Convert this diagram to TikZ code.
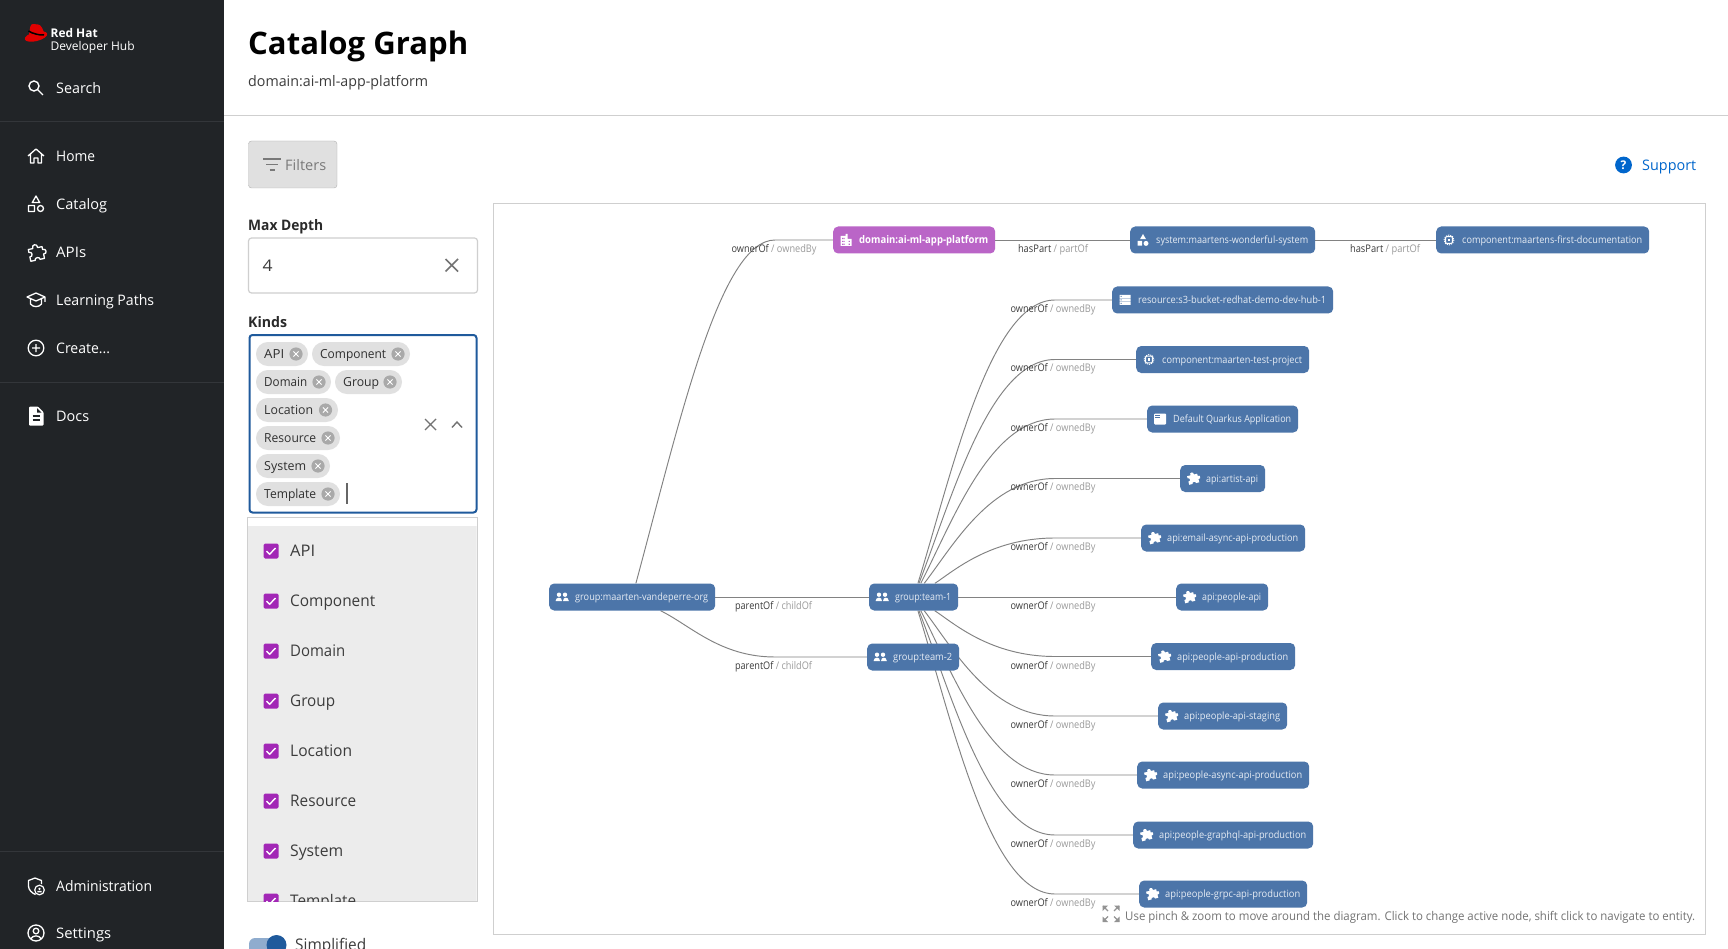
\documentclass[tikz,border=0pt]{standalone}
\usepackage{graphicx}
\usepackage{fontspec}
\setmainfont{Open Sans}
\newfontfamily\medf{Open Sans}
\usetikzlibrary{calc}
\definecolor{sidebg}{HTML}{212427}
\definecolor{sideln}{HTML}{33363A}
\definecolor{rule}{HTML}{CFCFCF}
\definecolor{entblue}{HTML}{4C75A9}
\definecolor{entpurple}{HTML}{BA65C7}
\definecolor{edgec}{HTML}{828282}
\definecolor{focus}{HTML}{1F5A9C}
\definecolor{chipc}{HTML}{E0E0E0}
\definecolor{chipx}{HTML}{A9A9A9}
\definecolor{checkc}{HTML}{A227B6}
\definecolor{dd}{HTML}{ECECEC}
\definecolor{ink}{HTML}{3C3C3C}
\definecolor{mut}{HTML}{9A9A9A}
\definecolor{link}{HTML}{0066CC}
\definecolor{enttxt}{HTML}{E6ECF4}
\pgfdeclarelayer{under}
\pgfsetlayers{under,main}
\newcommand\fs[1]{\fontsize{#1}{#1}\selectfont}
\newcommand\tx[6]{\node[anchor=base west,inner sep=0pt,#5] (#1) at (#2,#3) {\resizebox{#4pt}{\height}{#6}};}
\newcommand\ent[8]{\node[#1,minimum width=#4pt,anchor=west] (#2) at (#3,#5) {\makebox[#4pt][l]{\hspace{26pt}\raisebox{-3.5pt}[0pt][0pt]{\resizebox{\dimexpr#4pt-33pt\relax}{\height}{#8}}}};
\pic at ($(#2.west)+(13,0)$) {#6};}
\newcommand\elab[6]{\node[inner sep=0pt,anchor=center,font=\fs{10.5}] (#1) at (#2,#3+1) {\resizebox{#4pt}{\height}{\textcolor{ink}{#5} \textcolor{mut}{/ #6}\vphantom{Ag}}};}
\newcommand\chip[6]{\fill[chipc,rounded corners=11.9pt] (#2,#6-12) rectangle (#3,#6+12);
\tx{#1}{#2+8}{#6+4.7}{#4}{chiptxt}{#1}
\fill[chipx] (#5,#6) circle (6.6);
\draw[white,line width=1pt] (#5-2.6,#6-2.6) -- (#5+2.6,#6+2.6) (#5-2.6,#6+2.6) -- (#5+2.6,#6-2.6);}
\newcommand\opt[3]{\fill[checkc,rounded corners=1.5pt] (263.5,#2-7.5) rectangle (278.5,#2+7.5);
\draw[white,line width=1.4pt] (266.5,#2+.2) -- (269.7,#2+3.2) -- (275.5,#2-3);
\tx{o#1}{290}{#2+5.9}{#3}{opttxt}{#1}}
\tikzset{
 ent/.style={fill=entblue,text=enttxt,rounded corners=5pt,inner sep=0pt,minimum height=27pt,font=\fs{10}},
 entd/.style={ent,fill=entpurple,text=white,font=\fs{10.5}\bfseries},
 edgeline/.style={draw=edgec,line width=.95pt},
 sidetxt/.style={text=white,font=\fs{14.5}},
 chiptxt/.style={text=ink!80!black,font=\fs{12.5}\medf},
 opttxt/.style={text=ink,font=\fs{16}},
 ic search/.pic={\draw[white,line width=1.4pt] (-2,-2) circle (5) (1.6,1.6) -- (7,7);},
 ic home/.pic={\draw[white,line width=1.3pt,line join=round] (-8,0) -- (0,-7) -- (8,0) (-5.5,-1.5) -- (-5.5,7) -- (-2,7) -- (-2,2) -- (2,2) -- (2,7) -- (5.5,7) -- (5.5,-1.5);},
 ic catalog/.pic={\draw[white,line width=1.3pt,line join=round] (0,-8) -- (-3.7,-1.5) -- (3.7,-1.5) -- cycle (-7.5,1.5) rectangle (-1.5,7.5) (4.5,4.5) circle (3);},
 ic apis/.pic={\draw[white,line width=1.3pt,line join=round,rotate=12] (-7,-4) -- (-2.5,-4) .. controls (-3.5,-8.5) and (3.5,-8.5) .. (2.5,-4) -- (7,-4) -- (7,-1) .. controls (11,-2) and (11,4.5) .. (7,3.5) -- (7,8) -- (2.5,8) .. controls (3,5) and (-3,5) .. (-2.5,8) -- (-7,8) -- (-7,3.5) .. controls (-3.5,4.5) and (-3.5,-2) .. (-7,-1) -- cycle;},
 ic learn/.pic={\draw[white,line width=1.3pt,line join=round] (-9,-3) -- (0,-7) -- (9,-3) -- (0,1) -- cycle (-5.5,-.5) -- (-5.5,4) .. controls (-3,7.5) and (3,7.5) .. (5.5,4) -- (5.5,-.5) (9,-3) -- (9,2);},
 ic create/.pic={\draw[white,line width=1.3pt] (0,0) circle (7.8) (-4,0) -- (4,0) (0,-4) -- (0,4);},
 ic docs/.pic={\fill[white,rounded corners=1pt] (-7,-9.5) -- (2,-9.5) -- (7.5,-4) -- (7.5,9.5) -- (-7,9.5) -- cycle;
   \fill[sidebg] (1,-8) -- (1,-3.5) -- (5.5,-3.5) -- cycle;
   \draw[sidebg,line width=1.4pt] (-3.5,0) -- (4,0) (-3.5,4) -- (4,4);},
 ic admin/.pic={\draw[white,line width=1.3pt,line join=round] (-1,-8) -- (-7.5,-5.5) -- (-7.5,0) .. controls (-7.5,4) and (-4,7) .. (-.5,8.5) (-1,-8) -- (5.5,-5.5) -- (5.5,-2);
   \draw[white,line width=1.2pt] (3.5,4) circle (4.8);\fill[white] (3.5,2.8) circle (1.3) (1.3,6.3) rectangle (5.7,4.8);},
 ic settings/.pic={\draw[white,line width=1.3pt] (0,0) circle (8) (0,-2) circle (2.8) (-5,5.5) .. controls (-3,2) and (3,2) .. (5,5.5);},
 ic people/.pic={\fill[white] (-3,-2.3) circle (2.2) (3,-2.3) circle (2.2) (-6.5,4) .. controls (-6,-.5) and (0,-.5) .. (0,4) -- cycle (1,4) .. controls (1,-.5) and (6.5,-.5) .. (6.8,4) -- cycle;},
 ic domain/.pic={\fill[white] (-5.5,-4) rectangle (-.5,6) (-.5,-6) rectangle (1.5,6) (1.5,-1) rectangle (5.5,6);
   \fill[entpurple] (-4,-2) rectangle (-3,-.8) (-2.3,-2) rectangle (-1.3,-.8) (-4,.8) rectangle (-3,2) (-2.3,.8) rectangle (-1.3,2) (-4,3.6) rectangle (-3,4.8) (-2.3,3.6) rectangle (-1.3,4.8) (2.6,.8) rectangle (3.8,2) (2.6,3.6) rectangle (3.8,4.8);},
 ic system/.pic={\fill[white] (0,-6) -- (-3,-.8) -- (3,-.8) -- cycle (-5.5,1) rectangle (-.8,5.7) (3,3.4) circle (2.5);},
 ic resource/.pic={\fill[white] (-5.5,-5) rectangle (5.5,-2) (-5.5,-1.5) rectangle (5.5,1.5) (-5.5,2) rectangle (5.5,5);
   \fill[entblue] (-4.5,-4) rectangle (-3.5,-3) (-4.5,-.5) rectangle (-3.5,.5) (-4.5,3) rectangle (-3.5,4);},
 ic component/.pic={\draw[white,line width=.9pt,dash pattern=on 1.2pt off 1pt] (0,0) circle (5);\draw[white,line width=.9pt,rounded corners=1pt] (-3.4,-3.4) rectangle (3.4,3.4);\fill[white] (-1.3,-1.3) rectangle (1.3,1.3);},
 ic web/.pic={\fill[white,rounded corners=1pt] (-6,-5.5) rectangle (6,5.5);\draw[entblue,line width=.9pt] (-4.8,-3.4) -- (-.5,-3.4) (-4.8,-1.2) -- (-.5,-1.2);},
 ic puzzle/.pic={\fill[white,rotate=14,scale=.74,yshift=1pt] (-7,-4) -- (-2.5,-4) .. controls (-3.5,-8.5) and (3.5,-8.5) .. (2.5,-4) -- (7,-4) -- (7,-1) .. controls (11,-2) and (11,4.5) .. (7,3.5) -- (7,8) -- (2.5,8) .. controls (3,5) and (-3,5) .. (-2.5,8) -- (-7,8) -- (-7,3.5) .. controls (-3.5,4.5) and (-3.5,-2) .. (-7,-1) -- cycle;},
}
\begin{document}
\begin{tikzpicture}[x=1pt,y=-1pt]
\useasboundingbox (0,0) rectangle (1728,949);
\begin{pgfonlayer}{under}
 \fill[white] (0,0) rectangle (1728,949);
 \fill[sidebg] (0,0) rectangle (224,949);
 \draw[sideln,line width=1pt] (0,122) -- (224,122) (0,382) -- (224,382) (0,851) -- (224,851);
 \draw[rule,line width=1pt] (224,116) -- (1728,116);
 \draw[rule,line width=1pt,fill=white] (493,204) rectangle (1705,934);
\end{pgfonlayer}
% sidebar
\fill[red!88!black] (36,36.5) ellipse [x radius=11.5,y radius=4.6,rotate=14];
\fill[red!88!black] (29,35) .. controls (30,28) and (30,24) .. (33,24) .. controls (35,24) and (36,25) .. (38,24.5) .. controls (41,24) and (44,31) .. (44.5,35) -- cycle;
\draw[black,line width=1.5pt] (28.5,31) .. controls (32,33.5) and (40,35.5) .. (44,35);
\tx{logoa}{50.5}{37.5}{47}{text=white,font=\fs{12}\bfseries}{Red Hat}
\tx{logob}{50.5}{50.5}{84}{text=white,font=\fs{12}}{Developer Hub}
\pic at (36,88) {ic search};
\pic at (36,156) {ic home};
\pic at (36,204) {ic catalog};
\pic at (36,252) {ic apis};
\pic at (36,300) {ic learn};
\pic at (36,348) {ic create};
\pic at (36,416) {ic docs};
\pic at (36,886) {ic admin};
\pic at (36,933) {ic settings};
\tx{sSearch}{56}{93.2}{45}{sidetxt}{Search}
\tx{sHome}{56}{161.2}{39}{sidetxt}{Home}
\tx{sCatalog}{56}{209.2}{51}{sidetxt}{Catalog}
\tx{sAPIs}{56}{257.2}{30}{sidetxt}{APIs}
\tx{sLearn}{56}{305.2}{98}{sidetxt}{Learning Paths}
\tx{sCreate}{56}{353.2}{54}{sidetxt}{Create...}
\tx{sDocs}{56}{421.2}{33}{sidetxt}{Docs}
\tx{sAdmin}{56}{891.2}{96}{sidetxt}{Administration}
\tx{sSet}{56}{938.2}{55}{sidetxt}{Settings}
% header
\tx{title}{248}{55}{220}{text=black,font=\fs{31}\bfseries}{Catalog Graph}
\tx{sub}{248}{86.5}{180}{text=ink,font=\fs{14.5}}{domain:ai-ml-app-platform}
% filters
\draw[rule!85!black,fill=chipc,rounded corners=3pt] (248.5,141) rectangle (337,188);
\draw[gray!95!black,line width=1.5pt] (263,159) -- (281,159) (266,164.7) -- (278,164.7) (269.5,170) -- (274.5,170);
\tx{filters}{285}{170.5}{41}{text=gray!95!black,font=\fs{14.5}\medf}{Filters}
% support
\fill[link] (1623.5,165) circle (8.4);
\node[inner sep=0pt,text=white,font=\fs{12}\bfseries] (q) at (1623.5,165) {?};
\tx{support}{1642}{170.7}{54}{text=link,font=\fs{14.5}\medf}{Support}
% max depth
\tx{maxd}{248}{231}{75}{text=ink!70!black,font=\fs{14.5}\bfseries}{Max Depth}
\draw[rule,line width=1.2pt,rounded corners=3pt] (248.5,238) rectangle (477.5,293);
\tx{four}{262.5}{272}{10}{text=ink,font=\fs{16}}{4}
\draw[gray!90!black,line width=1.6pt] (445.5,259) -- (458,271.5) (445.5,271.5) -- (458,259);
% kinds
\tx{kinds}{248}{327.5}{39}{text=ink!70!black,font=\fs{14.5}\bfseries}{Kinds}
\draw[focus,line width=2pt,rounded corners=3pt] (249.5,335) rectangle (476.5,512.5);
\chip{API}{256}{308}{20}{296}{354}
\chip{Component}{312}{410}{66}{398}{354}
\chip{Domain}{256}{331}{43}{319}{382}
\chip{Group}{335}{402}{36}{390}{382}
\chip{Location}{256}{338}{49}{325.5}{410}
\chip{Resource}{256}{340}{52}{328}{438}
\chip{System}{256}{330}{42}{318}{466}
\chip{Template}{256}{340}{52}{328}{494}
\draw[gray!80!black,line width=1.2pt] (347,483) -- (347,504);
\draw[gray!90!black,line width=1.4pt] (425,419) -- (436,430) (425,430) -- (436,419);
\draw[gray!90!black,line width=1.4pt] (452,427.5) -- (457,422) -- (462,427.5);
% dropdown
\draw[rule,line width=1pt,fill=white] (247,517.5) rectangle (477,901.5);
\begin{scope}
\clip (247.5,518) rectangle (476.5,901);
\fill[dd] (247.5,526) rectangle (476.5,901);
\opt{API}{551}{25}
\opt{Component}{601}{85}
\opt{Domain}{651}{55}
\opt{Group}{701}{45}
\opt{Location}{751}{62}
\opt{Resource}{801}{66}
\opt{System}{851}{53}
\opt{Template}{901}{66}
\end{scope}
% toggle
\begin{scope}
\clip (240,925) rectangle (300,949);
\fill[focus!50!white,rounded corners=6pt] (249,938) rectangle (283,955);
\fill[focus] (276.5,945) circle (10);
\end{scope}
\tx{simple}{295}{950.5}{71}{opttxt}{Simplified}
% entities
\ent{entd}{dom}{833}{162}{240}{ic domain}{}{domain:ai-ml-app-platform}
\ent{ent}{sys}{1130}{185}{240}{ic system}{}{system:maartens-wonderful-system}
\ent{ent}{doc}{1436}{213}{240}{ic component}{}{component:maartens-first-documentation}
\ent{ent}{res}{1112}{221}{300}{ic resource}{}{resource:s3-bucket-redhat-demo-dev-hub-1}
\ent{ent}{cmp}{1136}{173}{359.5}{ic component}{}{component:maarten-test-project}
\ent{ent}{qrk}{1147}{151}{419}{ic web}{}{Default Quarkus Application}
\ent{ent}{art}{1180}{85}{478.5}{ic puzzle}{}{api:artist-api}
\ent{ent}{eml}{1141}{164}{538}{ic puzzle}{}{api:email-async-api-production}
\ent{ent}{ppl}{1176}{92}{597}{ic puzzle}{}{api:people-api}
\ent{ent}{prd}{1151}{144}{656.5}{ic puzzle}{}{api:people-api-production}
\ent{ent}{stg}{1158}{129}{716}{ic puzzle}{}{api:people-api-staging}
\ent{ent}{asy}{1137}{172}{775}{ic puzzle}{}{api:people-async-api-production}
\ent{ent}{gql}{1133}{180}{835}{ic puzzle}{}{api:people-graphql-api-production}
\ent{ent}{grp}{1139}{168}{894}{ic puzzle}{}{api:people-grpc-api-production}
\ent{ent}{org}{549}{166}{597}{ic people}{}{group:maarten-vandeperre-org}
\ent{ent}{tea}{869}{89}{597}{ic people}{}{group:team-1}
\ent{ent}{teb}{867}{92}{657}{ic people}{}{group:team-2}
% edges
\begin{pgfonlayer}{under}
 \draw[edgeline] (org) .. controls (680,420) and (720,240) .. (775,240) -- (dom);
 \draw[edgeline] (dom) -- (sys);
 \draw[edgeline] (sys) -- (doc);
 \draw[edgeline] (org) -- (tea);
 \draw[edgeline] (org) .. controls (690,625) and (720,657) .. (775,657) -- (teb);
 \draw[edgeline] (tea) -- (ppl);
 \foreach \n/\y in {res/300,cmp/359.5,qrk/419,art/478.5,eml/538,prd/656.5,stg/716,asy/775,gql/835,grp/894}
  \draw[edgeline] (tea) .. controls (953,{597+(\y-597)*0.43}) and (990,\y) .. (1055,\y) -- (\n);
\end{pgfonlayer}
% edge labels
\elab{l1}{774}{248.5}{85}{ownerOf}{ownedBy}
\elab{l2}{1053}{248.5}{70}{hasPart}{partOf}
\elab{l3}{1385}{248.5}{70}{hasPart}{partOf}
\elab{l4}{773.5}{606}{77}{parentOf}{childOf}
\elab{l5}{773.5}{665.5}{77}{parentOf}{childOf}
\elab{o1}{1053}{308.5}{85}{ownerOf}{ownedBy}
\elab{o2}{1053}{368}{85}{ownerOf}{ownedBy}
\elab{o3}{1053}{427.5}{85}{ownerOf}{ownedBy}
\elab{o4}{1053}{487}{85}{ownerOf}{ownedBy}
\elab{o5}{1053}{546.5}{85}{ownerOf}{ownedBy}
\elab{o6}{1053}{606}{85}{ownerOf}{ownedBy}
\elab{o7}{1053}{665.5}{85}{ownerOf}{ownedBy}
\elab{o8}{1053}{725}{85}{ownerOf}{ownedBy}
\elab{o9}{1053}{784}{85}{ownerOf}{ownedBy}
\elab{o10}{1053}{843.5}{85}{ownerOf}{ownedBy}
\elab{o11}{1053}{902.5}{85}{ownerOf}{ownedBy}
% hint
\fill[gray!85] (1102.5,905.5) -- (1108,905.5) -- (1102.5,911) -- cycle (1119.5,905.5) -- (1114,905.5) -- (1119.5,911) -- cycle (1102.5,922) -- (1108,922) -- (1102.5,916.5) -- cycle (1119.5,922) -- (1114,922) -- (1119.5,916.5) -- cycle;
\draw[gray!85,line width=1.2pt] (1103,906) -- (1108,911) (1119,906) -- (1114,911) (1103,921.5) -- (1108,916.5) (1119,921.5) -- (1114,916.5);
\tx{hint}{1125}{920}{570}{text=gray!90!black,font=\fs{12}}{Use pinch \& zoom to move around the diagram. Click to change active node, shift click to navigate to entity.}
\end{tikzpicture}
\end{document}
